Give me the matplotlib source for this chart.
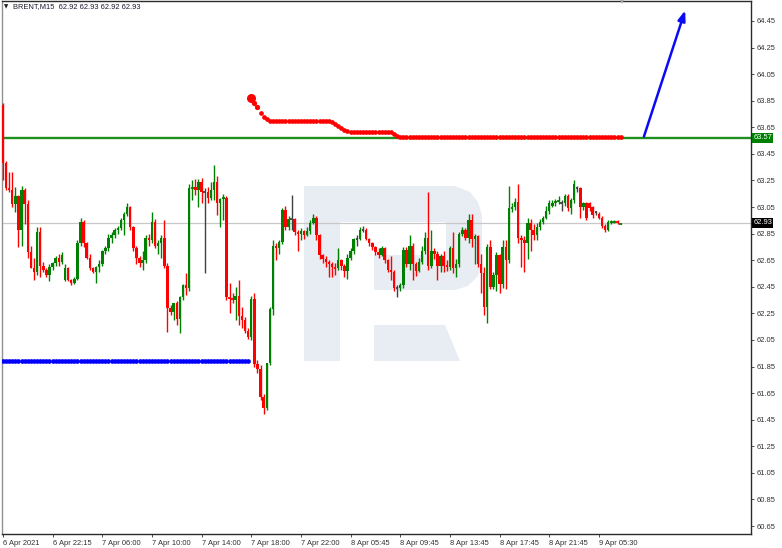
import matplotlib
matplotlib.use("Agg")
import matplotlib.pyplot as plt
from matplotlib.patches import Rectangle, Polygon
import matplotlib.transforms as mtransforms

# ---------------- data (BRENT, M15) ----------------
opens = [63.82, 63.38, 63.19, 63.18, 63.07, 63.13, 62.88, 63.18, 63.07, 62.71,
         62.59, 62.56, 62.86, 62.61, 62.58, 62.54, 62.60, 62.63, 62.67, 62.64,
         62.50, 62.59, 62.50, 62.48, 62.51, 62.78, 62.94, 62.78, 62.67, 62.59,
         62.56, 62.60, 62.62, 62.72, 62.74, 62.82, 62.84, 62.88, 62.89, 62.95,
         63.00, 63.05, 62.90, 62.74, 62.67, 62.63, 62.65, 62.82, 62.80, 62.94,
         62.76, 62.78, 62.82, 62.61, 62.29, 62.26, 62.33, 62.21, 62.37, 62.46,
         62.44, 63.19, 63.20, 63.18, 63.24, 63.16, 63.16, 63.12, 63.18, 63.24,
         63.08, 63.11, 63.12, 62.37, 62.36, 62.35, 62.38, 62.23, 62.20, 62.12,
         62.07, 62.36, 61.87, 61.83, 61.62, 61.54, 61.88, 62.28, 62.76, 62.74,
         62.79, 63.03, 62.90, 62.96, 62.96, 62.86, 62.85, 62.87, 62.84, 62.87,
         62.93, 62.97, 62.84, 62.69, 62.66, 62.64, 62.62, 62.60, 62.59, 62.65,
         62.61, 62.57, 62.67, 62.72, 62.81, 62.81, 62.88, 62.88, 62.81, 62.78,
         62.75, 62.71, 62.69, 62.74, 62.65, 62.58, 62.56, 62.44, 62.44, 62.46,
         62.73, 62.62, 62.76, 62.62, 62.57, 62.64, 62.72, 62.82, 62.61, 62.72,
         62.70, 62.61, 62.68, 62.61, 62.60, 62.74, 62.59, 62.62, 62.85, 62.88,
         62.82, 62.95, 62.81, 62.83, 62.62, 62.55, 62.30, 62.75, 62.45, 62.54,
         62.69, 62.47, 62.75, 62.65, 63.04, 63.05, 63.09, 62.82, 62.80, 62.78,
         62.93, 62.88, 62.84, 62.90, 62.94, 62.97, 63.02, 63.06, 63.08, 63.09,
         63.08, 63.08, 63.13, 63.04, 63.10, 63.19, 63.19, 63.05, 63.08, 63.08,
         63.05, 63.01, 63.00, 62.97, 62.91, 62.88, 62.93, 62.93, 62.94, 62.92]
highs = [63.83, 63.40, 63.31, 63.31, 63.20, 63.14, 63.21, 63.19, 63.10, 62.76,
         62.67, 62.90, 62.90, 62.64, 62.59, 62.62, 62.64, 62.68, 62.70, 62.71,
         62.62, 62.60, 62.51, 62.52, 62.80, 62.97, 62.95, 62.79, 62.70, 62.60,
         62.61, 62.65, 62.73, 62.76, 62.85, 62.86, 62.89, 62.91, 62.97, 63.01,
         63.08, 63.06, 62.91, 62.76, 62.68, 62.72, 62.84, 62.85, 63.01, 62.96,
         62.80, 62.84, 62.95, 62.63, 62.31, 62.33, 62.34, 62.38, 62.47, 62.55,
         63.22, 63.25, 63.26, 63.26, 63.27, 63.19, 63.20, 63.24, 63.37, 63.28,
         63.12, 63.15, 63.13, 62.48, 62.40, 62.45, 62.50, 62.30, 62.22, 62.14,
         62.38, 62.40, 61.90, 61.86, 61.64, 61.88, 62.30, 62.80, 62.78, 62.80,
         63.04, 63.06, 62.98, 63.14, 62.97, 62.88, 62.89, 62.88, 62.90, 62.95,
         63.00, 62.98, 62.85, 62.70, 62.68, 62.65, 62.64, 62.63, 62.74, 62.66,
         62.62, 62.70, 62.74, 62.82, 62.84, 62.90, 62.91, 62.89, 62.82, 62.79,
         62.76, 62.74, 62.76, 62.75, 62.66, 62.68, 62.58, 62.46, 62.48, 62.75,
         62.75, 62.84, 62.78, 62.64, 62.67, 62.76, 62.86, 63.16, 62.88, 62.74,
         62.72, 62.70, 62.72, 62.65, 62.76, 62.86, 62.66, 62.86, 62.90, 62.89,
         63.00, 63.00, 62.85, 62.84, 62.70, 62.60, 62.77, 62.80, 62.56, 62.71,
         62.70, 62.80, 62.80, 63.21, 63.08, 63.12, 63.22, 62.84, 62.83, 62.97,
         62.96, 62.92, 62.93, 62.96, 62.98, 63.06, 63.10, 63.10, 63.11, 63.13,
         63.10, 63.15, 63.15, 63.12, 63.25, 63.21, 63.20, 63.09, 63.09, 63.09,
         63.06, 63.02, 63.01, 62.98, 62.92, 62.95, 62.95, 62.95, 62.95, 62.93]
lows = [63.25, 63.18, 63.16, 63.05, 63.01, 62.75, 62.76, 62.92, 62.67, 62.59,
        62.50, 62.54, 62.52, 62.56, 62.52, 62.49, 62.58, 62.61, 62.61, 62.62,
        62.49, 62.49, 62.46, 62.47, 62.50, 62.76, 62.75, 62.66, 62.58, 62.55,
        62.48, 62.56, 62.61, 62.70, 62.72, 62.78, 62.82, 62.85, 62.88, 62.84,
        62.98, 62.88, 62.72, 62.62, 62.60, 62.58, 62.63, 62.76, 62.78, 62.74,
        62.70, 62.67, 62.59, 62.11, 62.24, 62.20, 62.16, 62.10, 62.35, 62.39,
        62.42, 63.10, 63.14, 63.05, 63.08, 62.55, 63.08, 63.10, 63.10, 62.99,
        62.90, 62.95, 62.35, 62.25, 62.33, 62.20, 62.16, 62.14, 62.10, 62.06,
        62.05, 61.85, 61.80, 61.60, 61.49, 61.52, 61.86, 62.24, 62.65, 62.70,
        62.77, 62.88, 62.88, 62.88, 62.84, 62.72, 62.80, 62.81, 62.83, 62.85,
        62.92, 62.80, 62.66, 62.63, 62.60, 62.52, 62.52, 62.54, 62.58, 62.58,
        62.52, 62.51, 62.65, 62.70, 62.76, 62.80, 62.86, 62.80, 62.76, 62.73,
        62.69, 62.67, 62.68, 62.63, 62.56, 62.50, 62.42, 62.37, 62.42, 62.44,
        62.60, 62.58, 62.50, 62.53, 62.56, 62.62, 62.70, 62.58, 62.59, 62.66,
        62.50, 62.56, 62.56, 62.57, 62.58, 62.55, 62.52, 62.60, 62.83, 62.80,
        62.78, 62.75, 62.62, 62.60, 62.40, 62.24, 62.18, 62.43, 62.43, 62.42,
        62.40, 62.44, 62.43, 62.63, 63.01, 63.03, 62.78, 62.60, 62.56, 62.66,
        62.72, 62.80, 62.80, 62.88, 62.92, 62.96, 63.00, 63.05, 63.06, 63.07,
        63.02, 63.06, 63.02, 63.00, 63.08, 63.16, 62.97, 63.03, 62.95, 63.02,
        62.97, 62.99, 62.96, 62.89, 62.86, 62.87, 62.92, 62.93, 62.92, 62.92]
closes = [63.38, 63.19, 63.18, 63.07, 63.13, 62.88, 63.18, 63.07, 62.71, 62.59,
          62.56, 62.86, 62.61, 62.58, 62.54, 62.60, 62.63, 62.67, 62.64, 62.69,
          62.59, 62.50, 62.48, 62.51, 62.78, 62.94, 62.78, 62.67, 62.59, 62.56,
          62.60, 62.62, 62.72, 62.74, 62.82, 62.84, 62.88, 62.89, 62.95, 63.00,
          63.05, 62.90, 62.74, 62.67, 62.63, 62.65, 62.82, 62.80, 62.94, 62.76,
          62.78, 62.82, 62.61, 62.29, 62.26, 62.33, 62.21, 62.37, 62.46, 62.44,
          63.19, 63.20, 63.18, 63.24, 63.16, 63.16, 63.12, 63.18, 63.24, 63.08,
          63.11, 63.12, 62.37, 62.36, 62.35, 62.38, 62.23, 62.20, 62.12, 62.07,
          62.36, 61.87, 61.83, 61.62, 61.54, 61.88, 62.28, 62.76, 62.74, 62.79,
          63.03, 62.90, 62.96, 62.96, 62.86, 62.85, 62.87, 62.84, 62.87, 62.93,
          62.97, 62.84, 62.69, 62.66, 62.64, 62.62, 62.60, 62.59, 62.65, 62.61,
          62.57, 62.67, 62.72, 62.81, 62.81, 62.88, 62.88, 62.81, 62.78, 62.75,
          62.71, 62.69, 62.74, 62.65, 62.58, 62.56, 62.44, 62.44, 62.46, 62.73,
          62.62, 62.76, 62.62, 62.57, 62.64, 62.72, 62.82, 62.61, 62.72, 62.70,
          62.61, 62.68, 62.61, 62.60, 62.74, 62.59, 62.62, 62.85, 62.88, 62.82,
          62.95, 62.81, 62.83, 62.62, 62.55, 62.30, 62.75, 62.45, 62.54, 62.69,
          62.47, 62.75, 62.65, 63.04, 63.05, 63.09, 62.82, 62.80, 62.78, 62.93,
          62.88, 62.84, 62.90, 62.94, 62.97, 63.02, 63.08, 63.08, 63.09, 63.10,
          63.08, 63.13, 63.04, 63.10, 63.22, 63.19, 63.05, 63.08, 62.97, 63.04,
          62.99, 63.01, 62.97, 62.91, 62.88, 62.94, 62.94, 62.94, 62.93, 62.93]

x_tick_index = [0, 16, 32, 48, 64, 80, 96, 112, 128, 144, 160, 176, 192]
x_tick_labels = ["6 Apr 2021", "6 Apr 22:15", "7 Apr 06:00", "7 Apr 10:00",
                 "7 Apr 14:00", "7 Apr 18:00", "7 Apr 22:00", "8 Apr 05:45",
                 "8 Apr 09:45", "8 Apr 13:45", "8 Apr 17:45", "8 Apr 21:45",
                 "9 Apr 05:30"]
y_ticks = [64.45, 64.25, 64.05, 63.85, 63.65, 63.45, 63.25, 63.05, 62.85, 62.65,
           62.45, 62.25, 62.05, 61.85, 61.65, 61.45, 61.25, 61.05, 60.85, 60.65]

resistance_level = 63.57
bid_level = 62.93
blue_dot_level = 61.89
blue_dot_count = 80
red_dot_start = 80
red_dots = ([63.87, 63.83, 63.80, 63.76, 63.73, 63.71] + [63.70] * 19 +
            [63.70, 63.69, 63.675, 63.66, 63.645, 63.63, 63.62] + [63.615] * 14 +
            [63.60, 63.585] + [63.577] * 72)
arrow_start = (206.5, 63.58)
arrow_end = (219.8, 64.53)
header = "BRENT,M15  62.92 62.93 62.92 62.93"

# ---------------- figure ----------------
W, H = 782, 548
plt.rcParams["font.family"] = ["Liberation Sans", "DejaVu Sans"]
fig = plt.figure(figsize=(W / 100, H / 100), dpi=100)
fig.patch.set_facecolor("white")
ax = fig.add_axes([2 / W, 14 / H, 749 / W, 533.5 / H])
ax.set_xlim(-0.3, 241.0)
ax.set_ylim(60.590, 64.604)

# watermark (RoboForex logo), pixel coordinates of the figure
def px(x, y):
    return (x / W, 1 - y / H)

wm = "#e8ecf3"
wm_shapes = [
    [px(304, 186), px(340, 186), px(340, 361), px(304, 361)],
    [px(340, 186), px(455, 186), px(470, 192), px(478, 202), px(482, 215),
     px(482, 262), px(478, 276), px(468, 286), px(455, 290), px(374, 290),
     px(374, 255), px(446, 255), px(446, 222), px(340, 222)],
    [px(374, 325), px(445, 325), px(460, 361), px(374, 361)],
]
for pts in wm_shapes:
    ax.add_patch(Polygon(pts, closed=True, transform=fig.transFigure,
                         facecolor=wm, edgecolor="none", zorder=0.2))

UP, DN, DJ = "#008000", "#ff0000", "#404040"
for i, (o, h, l, c) in enumerate(zip(opens, highs, lows, closes)):
    col = UP if c > o else (DN if c < o else DJ)
    ax.vlines(i, l, h, color=col, lw=1.0, zorder=3)
    lo, hi = min(o, c), max(o, c)
    if hi - lo < 0.012:
        ax.hlines((o + c) / 2, i - 0.4, i + 0.4, color=col, lw=1.3, zorder=3)
    else:
        ax.add_patch(Rectangle((i - 0.4, lo), 0.8, hi - lo, facecolor=col,
                               edgecolor="none", zorder=3))

ax.axhline(bid_level, color="#c8c8c8", lw=0.9, zorder=1)
ax.axhline(resistance_level, color="#1f8f1f", lw=1.7, zorder=2)

ax.plot(range(blue_dot_count), [blue_dot_level] * blue_dot_count, "o",
        color="#0000ff", ms=3.4, mew=0, zorder=4)
rx = list(range(red_dot_start, red_dot_start + len(red_dots)))
ax.plot(rx[3:], red_dots[3:], "o", color="#ff0000", ms=3.4, mew=0, zorder=4)
ax.plot(rx[1:3], red_dots[1:3], "o", color="#ff0000", ms=3.8, mew=0, zorder=4)
ax.plot(rx[:1], red_dots[:1], "o", color="#ff0000", ms=6.5, mew=0, zorder=4)

ax.annotate("", xy=arrow_end, xytext=arrow_start,
            arrowprops=dict(arrowstyle="-|>,head_length=0.6,head_width=0.22",
                            color="#0a0af5", lw=1.8, mutation_scale=10,
                            shrinkA=0, shrinkB=0), zorder=5)

# chart shift marker
ax.plot([199.5], [64.604], marker="v", ms=4.5, color="#a8a8a8", mew=0,
        clip_on=False, zorder=6)

# axes styling
for s in ["top", "right", "bottom"]:
    ax.spines[s].set_color("#2a2a2a")
    ax.spines[s].set_linewidth(1.0)
ax.spines["left"].set_color("#909090")
ax.spines["left"].set_linewidth(1.0)
ax.yaxis.tick_right()
ax.set_yticks(y_ticks)
ax.set_yticklabels([f"{v:.2f}" for v in y_ticks])
ax.set_xticks(x_tick_index)
ax.set_xticklabels(x_tick_labels, ha="left")
ax.tick_params(axis="both", direction="out", length=2.5, width=0.6,
               colors="#303030", labelsize=5.4, pad=1.5)

# price tags
blend = mtransforms.blended_transform_factory(ax.transAxes, ax.transData)
ax.text(1.003, resistance_level, f"{resistance_level:.2f}", transform=blend,
        ha="left", va="center", fontsize=5.4, color="white", zorder=7,
        bbox=dict(boxstyle="square,pad=0.18", fc="#008000", ec="none"))
ax.text(1.003, bid_level, f"{bid_level:.2f}", transform=blend,
        ha="left", va="center", fontsize=5.4, color="white", zorder=7,
        bbox=dict(boxstyle="square,pad=0.18", fc="black", ec="none"))

# header
fig.text(4 / W, 1 - 7 / H, "\u25bc", fontsize=4.0, color="#202020",
         ha="left", va="center", family=["DejaVu Sans"])
fig.text(13 / W, 1 - 7 / H, header, fontsize=5.4, color="#1a1a30",
         ha="left", va="center")

fig.savefig("out.png", dpi=100, facecolor="white")
